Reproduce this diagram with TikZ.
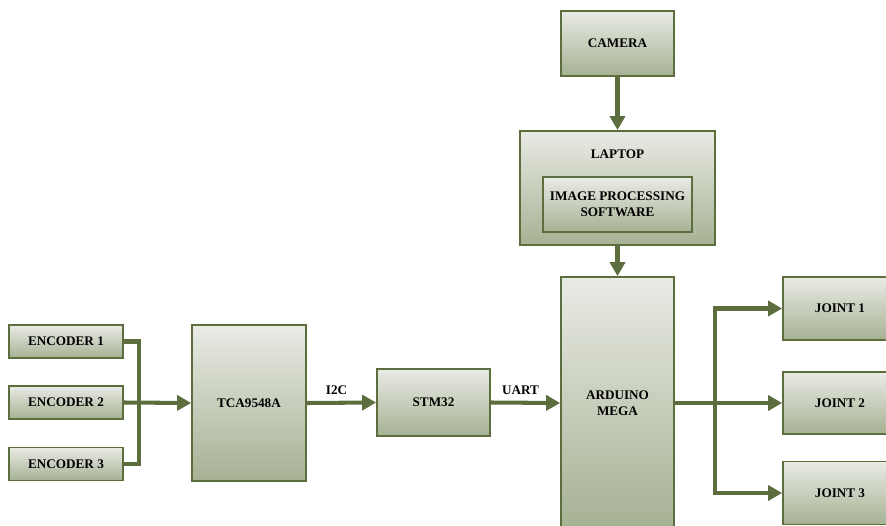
\documentclass[tikz,border=0pt]{standalone}
\usepackage{fontspec}
\setmainfont{Liberation Serif}
\usetikzlibrary{arrows.meta,positioning,calc}
\definecolor{olive}{RGB}{92,110,62}
\definecolor{boxtop}{RGB}{233,235,229}
\definecolor{boxbot}{RGB}{166,177,147}
\tikzset{
	block/.style={draw=olive, line width=1pt, top color=boxtop, bottom color=boxbot,
			font=\fontsize{7.5}{9}\selectfont\bfseries, align=center, inner sep=0pt},
	link/.style={draw=olive, line width=2.3pt},
	flow/.style={link, -{Triangle[length=0.28cm,width=0.3cm]}}
}

\begin{document}
\begin{tikzpicture}[x=0.02cm, y=0.02cm]
			\clip (0,0) rectangle (886,525);
			\useasboundingbox (0,0) rectangle (886,525);
			% Encoders and multiplexer
			\node[block, minimum width=2.28cm, minimum height=0.66cm] (enc1) at (66,183.5) {ENCODER 1};
			\node[block, minimum width=2.28cm, minimum height=0.66cm] (enc2) at (66,122.5) {ENCODER 2};
			\node[block, minimum width=2.28cm, minimum height=0.66cm] (enc3) at (66,61) {ENCODER 3};
			\node[block, minimum width=2.28cm, minimum height=3.12cm] (tca) at (249,122) {TCA9548A};

			% Microcontrollers
			\node[block, minimum width=2.26cm, minimum height=1.34cm] (stm) at (433.5,122.5) {STM32};
			\node[block, minimum width=2.26cm, minimum height=5.04cm] (ard) at (617.5,122) {ARDUINO\\MEGA};

			% Camera and laptop
			\node[block, minimum width=2.26cm, minimum height=1.3cm] (cam) at (617.5,481.5) {CAMERA};
			\node[block, minimum width=3.9cm, minimum height=2.28cm] (laptop) at (617.5,337) {};
			\node[font=\fontsize{7.5}{9}\selectfont\bfseries, anchor=center] (laptoplbl) at ([yshift=-0.48cm]laptop.north) {LAPTOP};
			\node[block, minimum width=2.98cm, minimum height=1.1cm] (soft) at (617.5,320.5) {IMAGE PROCESSING\\SOFTWARE};

			% Joints
			\node[block, minimum width=2.28cm, minimum height=1.26cm] (joint1) at (840,216.5) {JOINT 1};
			\node[block, minimum width=2.28cm, minimum height=1.24cm] (joint2) at (840,122) {JOINT 2};
			\node[block, minimum width=2.28cm, minimum height=1.26cm] (joint3) at (840,32) {JOINT 3};

			% Bus points
			\coordinate (busL) at (139,122.5);
			\coordinate (busR) at (715,122);

			% Arrows
			\draw[link] (enc1.east) -| (busL) |- (enc3.east);
			\draw[flow] (enc2.east) -- (tca.west);
			\draw[flow] (tca.east) -- node[above, font=\fontsize{7.5}{9}\selectfont\bfseries, xshift=-0.1cm] {I2C} (stm.west);
			\draw[flow] (stm.east) -- node[above, font=\fontsize{7.5}{9}\selectfont\bfseries, xshift=-0.1cm] {UART} (ard.west);
			\draw[flow] (cam.south) -- (laptop.north);
			\draw[flow] (laptop.south) -- (ard.north);
			\draw[link] (ard.east) -- (busR);
			\draw[flow] (busR) -- (joint2.west);
			\draw[flow] (busR) |- (joint1.west);
			\draw[flow] (busR) |- (joint3.west);
		\end{tikzpicture}
\end{document}
